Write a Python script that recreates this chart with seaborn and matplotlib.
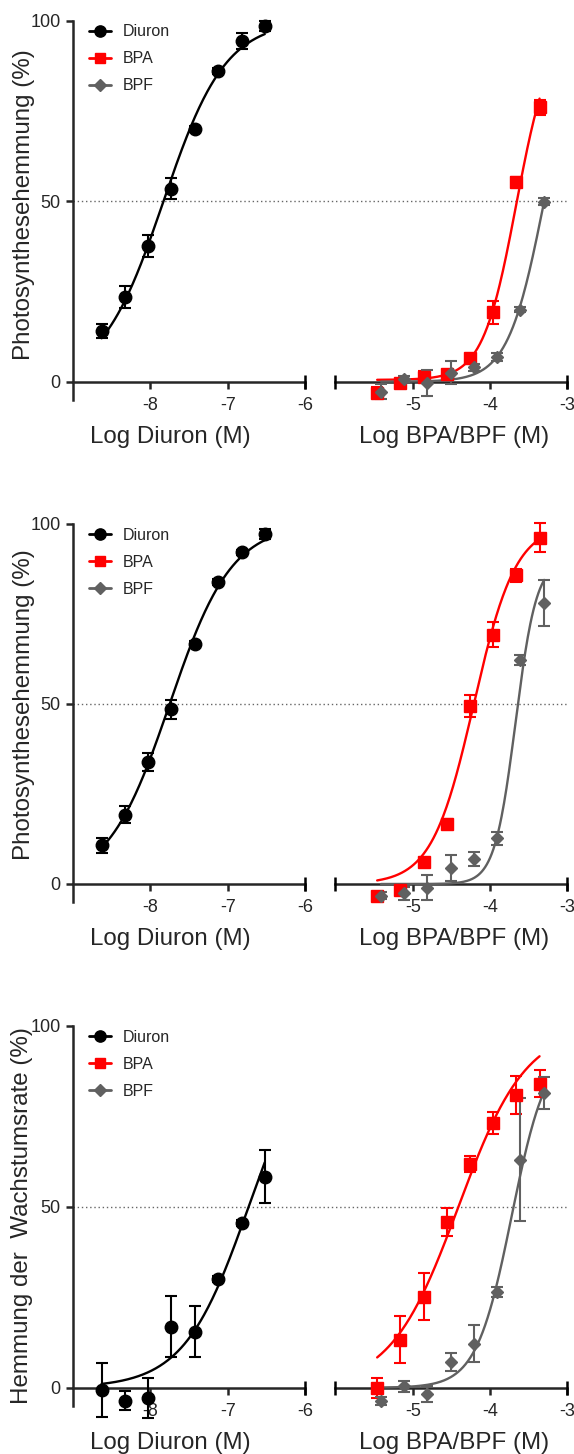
import numpy as np
import pandas as pd
import seaborn as sns
import matplotlib
matplotlib.use('Agg')
import matplotlib.pyplot as plt
from matplotlib.lines import Line2D

sns.set_style('ticks')
plt.rcParams['font.family'] = ['Liberation Sans', 'DejaVu Sans']
plt.rcParams['axes.unicode_minus'] = False

# log concentrations (M)
diuron_x = [-8.63, -8.33, -8.03, -7.73, -7.42, -7.12, -6.82, -6.52]
bpa_x = [-5.46, -5.16, -4.86, -4.56, -4.26, -3.96, -3.66, -3.36]
bpf_x = [-5.41, -5.11, -4.81, -4.51, -4.21, -3.91, -3.61, -3.30]

# panel 1: Photosynthesehemmung
diuron1 = [14.0, 23.5, 37.6, 53.5, 70.0, 86.1, 94.4, 98.5]
diuron1_err = [2.0, 3.0, 3.0, 3.0, 0.8, 0.8, 2.3, 1.3]
bpa1 = [-3.0, -0.4, 1.4, 2.0, 6.5, 19.2, 55.4, 76.0]
bpa1_err = [1.5, 0.8, 1.5, 1.0, 1.0, 3.1, 1.4, 2.0]
bpf1 = [-2.8, 0.7, -0.4, 2.5, 4.0, 6.8, 20.0, 49.9]
bpf1_err = [2.1, 0.8, 3.6, 3.2, 1.0, 1.2, 0.8, 1.0]

# panel 2: Photosynthesehemmung
diuron2 = [10.7, 19.3, 33.8, 48.5, 66.8, 83.8, 92.1, 97.2]
diuron2_err = [2.0, 2.3, 2.5, 2.7, 0.8, 0.8, 0.8, 1.5]
bpa2 = [-3.3, -1.6, 6.2, 16.7, 49.5, 69.2, 85.8, 96.2]
bpa2_err = [0.8, 0.8, 0.8, 1.3, 3.0, 3.5, 1.8, 4.0]
bpf2 = [-3.3, -2.6, -1.0, 4.4, 6.9, 12.7, 62.2, 78.1]
bpf2_err = [1.0, 1.85, 3.5, 3.7, 1.9, 1.8, 1.5, 6.4]

# panel 3: Hemmung der Wachstumsrate
diuron3 = [-0.6, -3.6, -2.9, 16.9, 15.5, 30.0, 45.6, 58.3]
diuron3_err = [7.5, 2.6, 5.5, 8.5, 7.1, 0.8, 0.8, 7.3]
bpa3 = [0.0, 13.2, 25.2, 45.8, 61.8, 73.1, 80.9, 84.0]
bpa3_err = [2.8, 6.5, 6.6, 3.9, 2.2, 3.0, 5.3, 3.7]
bpf3 = [-3.7, 0.4, -1.7, 7.1, 12.2, 26.5, 63.0, 81.4]
bpf3_err = [1.0, 1.5, 2.2, 2.5, 5.1, 1.4, 17.0, 4.4]

# fit parameters (bottom, top, logEC50, hill slope)
fits = [
    {'Diuron': (0, 100, -7.83, 1.08), 'BPA': (0.5, 98, -3.66, 2.0), 'BPF': (0, 100, -3.30, 1.85)},
    {'Diuron': (0, 100, -7.75, 1.08), 'BPA': (0, 100, -4.21, 1.6), 'BPF': (0, 90, -3.67, 3.2)},
    {'Diuron': (0, 100, -6.73, 1.04), 'BPA': (0, 100, -4.41, 0.99), 'BPF': (0, 95, -3.72, 1.9)},
]

panels = [
    {'Diuron': (diuron1, diuron1_err), 'BPA': (bpa1, bpa1_err), 'BPF': (bpf1, bpf1_err)},
    {'Diuron': (diuron2, diuron2_err), 'BPA': (bpa2, bpa2_err), 'BPF': (bpf2, bpf2_err)},
    {'Diuron': (diuron3, diuron3_err), 'BPA': (bpa3, bpa3_err), 'BPF': (bpf3, bpf3_err)},
]
ylabels = ['Photosynthesehemmung (%)', 'Photosynthesehemmung (%)', 'Hemmung der  Wachstumsrate (%)']

xvals = {'Diuron': diuron_x, 'BPA': bpa_x, 'BPF': bpf_x}
colors = {'Diuron': '#000000', 'BPA': '#ff0000', 'BPF': '#606060'}
markers = {'Diuron': 'o', 'BPA': 's', 'BPF': 'D'}
msizes = {'Diuron': 9, 'BPA': 8.5, 'BPF': 6.5}


def logistic(x, bottom, top, logec50, hill):
    return bottom + (top - bottom) / (1 + 10 ** ((logec50 - x) * hill))


W, H = 574, 1454
fig = plt.figure(figsize=(W / 100, H / 100), dpi=100)

tops = [20.7, 524, 1026]
ppus = [3.61, 3.6, 3.617]
ylab_x = [-0.211, -0.211, -0.22]
ylab_y = [0.516, 0.521, 0.50]
x_left, x_right, ax_w = 73, 335.4, 232

for i in range(3):
    h = 105 * ppus[i]
    bottom = H - tops[i] - h
    axl = fig.add_axes([x_left / W, bottom / H, ax_w / W, h / H])
    axr = fig.add_axes([x_right / W, bottom / H, ax_w / W, h / H])

    for ax in (axl, axr):
        ax.set_ylim(-5, 100)
        ax.spines['top'].set_visible(False)
        ax.spines['right'].set_visible(False)
        ax.spines['bottom'].set_position(('data', 0))
        for s in ('left', 'bottom'):
            ax.spines[s].set_linewidth(1.8)
        ax.tick_params(axis='both', direction='out', width=1.8, length=5,
                       labelsize=13, pad=4)
        ax.set_facecolor('none')

    axl.set_xlim(-9, -6)
    axl.set_xticks([-8, -7, -6])
    axl.set_yticks([0, 50, 100])
    axr.set_xlim(-6, -3)
    axr.set_xticks([-5, -4, -3])
    axr.spines['left'].set_visible(False)
    axr.tick_params(axis='y', left=False, labelleft=False)
    axl.tick_params(axis='x', pad=6)
    axr.tick_params(axis='x', pad=6)

    # end caps of the broken x axis
    axl.plot([-6], [0], marker='|', ms=10, mew=1.8, color='k', clip_on=False, zorder=3)
    axr.plot([-6, -3], [0, 0], ls='none', marker='|', ms=10, mew=1.8, color='k',
             clip_on=False, zorder=3)

    # 50 % reference line across both segments
    axl.axhline(50, xmin=0, xmax=(567 - x_left) / ax_w, color='0.4', lw=1,
                ls=(0, (1, 2)), clip_on=False, zorder=1)

    for name in ['Diuron', 'BPA', 'BPF']:
        ax = axl if name == 'Diuron' else axr
        xs = xvals[name]
        ys, errs = panels[i][name]
        xf = np.linspace(min(xs), max(xs), 200)
        curve = pd.DataFrame({'x': xf, 'y': logistic(xf, *fits[i][name])})
        sns.lineplot(data=curve, x='x', y='y', ax=ax, color=colors[name], lw=1.7,
                     estimator=None, legend=False, zorder=3)
        cont = ax.errorbar(xs, ys, yerr=errs, fmt=markers[name], color=colors[name],
                           ms=msizes[name], capsize=4, elinewidth=1.5, capthick=1.5,
                           zorder=4)
        for art in cont.get_children():
            art.set_clip_on(False)

    axl.set_xlabel('Log Diuron (M)', fontsize=17.4)
    axr.set_xlabel('Log BPA/BPF (M)', fontsize=17.4)
    axl.xaxis.set_label_coords(0.418, -0.07)
    axr.xaxis.set_label_coords(0.513, -0.07)
    axr.set_ylabel('')
    axl.set_ylabel(ylabels[i], fontsize=17.4)
    axl.yaxis.set_label_coords(ylab_x[i], ylab_y[i])
    axl.yaxis.label.set_va('center')
    axl.yaxis.label.set_ha('center')

    handles = [Line2D([], [], color=colors[n], marker=markers[n], ms=msizes[n] * 0.9,
                      lw=2, label=n) for n in ['Diuron', 'BPA', 'BPF']]
    axl.legend(handles=handles, loc='upper left', bbox_to_anchor=(0.069, 0.99),
               frameon=False, fontsize=11.5, handlelength=1.4, handletextpad=0.7,
               labelspacing=0.75, borderpad=0, borderaxespad=0)

fig.savefig('out.png', dpi=100)
